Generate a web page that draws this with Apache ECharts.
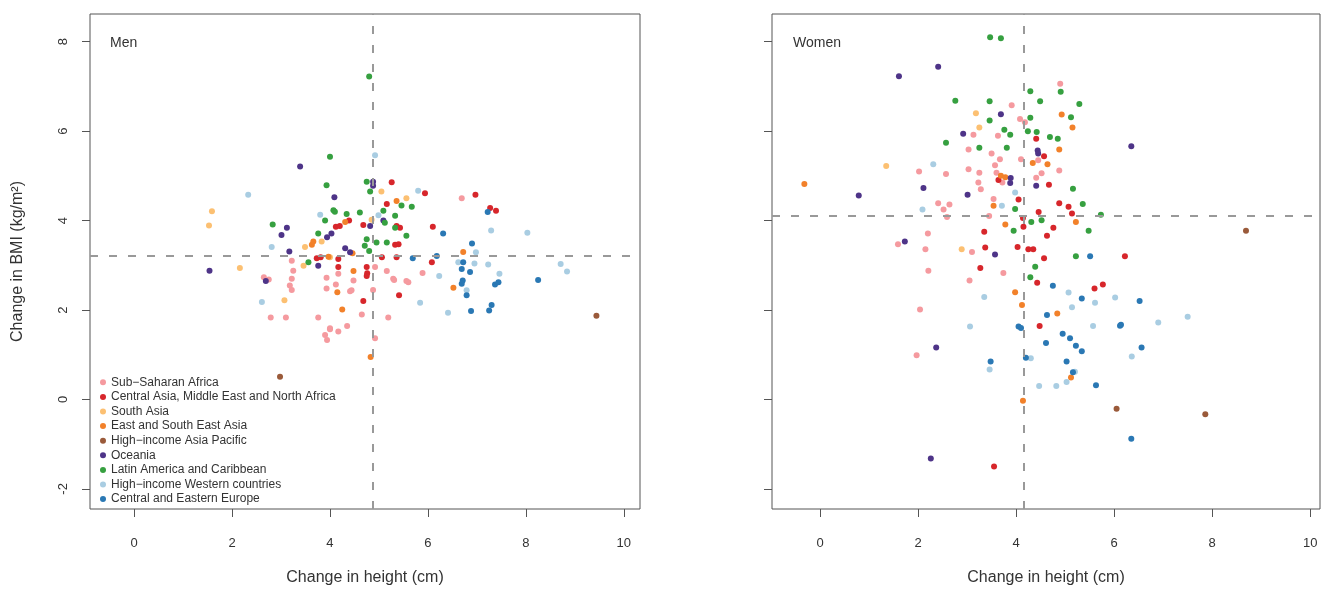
<!DOCTYPE html>
<html>
<head>
<meta charset="utf-8">
<script src="https://cdn.jsdelivr.net/npm/echarts@6/dist/echarts.min.js"></script>
<style>
    html, body { margin: 0; padding: 0; background: #fff; }
    #chart { width: 1321px; height: 591px; }
</style>
</head>
<body>
<div id="chart"></div>
<script>
    // regions + colours (same order as the legend)
    const regionNames = [
        'Sub−Saharan Africa',
        'Central Asia, Middle East and North Africa',
        'South Asia',
        'East and South East Asia',
        'High−income Asia Pacific',
        'Oceania',
        'Latin America and Caribbean',
        'High−income Western countries',
        'Central and Eastern Europe'
    ];
    const regionColors = ['#f59a9f', '#d7262b', '#fcc072', '#f2812a', '#9a5a3a', '#4e3488', '#36a040', '#a9cde2', '#2a78b4'];

    // [change in height (cm), change in BMI (kg/m2)]
    const menSSA = [[3.22, 3.1], [3.25, 2.88], [4.17, 2.81], [4.92, 2.96], [5.16, 2.87], [5.29, 2.7], [5.56, 2.65], [5.89, 2.83],
        [2.65, 2.73], [2.75, 2.68], [3.22, 2.7], [3.93, 2.72], [4.48, 2.66], [3.22, 2.45], [3.93, 2.48], [4.41, 2.42], [4.88, 2.45],
        [4.12, 2.57], [4.44, 2.44], [5.31, 2.67], [5.6, 2.62], [4.65, 1.9], [2.79, 1.83], [3.1, 1.83], [3.76, 1.83], [5.19, 1.83],
        [4.35, 1.64], [4.0, 1.57], [4.17, 1.52], [3.9, 1.44], [3.94, 1.33], [4.92, 1.37], [6.69, 4.5], [3.18, 2.55], [4.0, 1.59]];
    const menMENA = [[5.26, 4.86], [5.94, 4.61], [5.16, 4.37], [4.39, 4.0], [4.2, 3.88], [4.12, 3.86], [4.68, 3.9], [5.36, 3.88],
        [5.43, 3.84], [6.1, 3.86], [5.33, 3.46], [5.4, 3.47], [3.73, 3.16], [3.81, 3.18], [4.17, 3.14], [5.06, 3.18], [5.36, 3.18],
        [6.08, 3.07], [4.17, 2.96], [4.75, 2.96], [4.76, 2.82], [4.75, 2.76], [5.41, 2.33], [4.68, 2.2], [6.97, 4.58], [7.27, 4.28],
        [7.39, 4.22]];
    const menSA = [[5.05, 4.65], [5.56, 4.5], [4.85, 4.02], [3.83, 3.53], [3.49, 3.41], [4.0, 3.18], [3.46, 2.99], [3.07, 2.22],
        [1.59, 4.21], [1.53, 3.89], [2.16, 2.94]];
    const menESEA = [[5.36, 4.44], [4.31, 3.97], [3.63, 3.46], [3.97, 3.19], [4.46, 3.27], [4.48, 2.87], [4.15, 2.4], [4.25, 2.01],
        [4.83, 0.95], [6.72, 3.3], [6.52, 2.5], [3.66, 3.53]];
    const menHIAP = [[9.44, 1.87], [2.98, 0.51]];
    const menOce = [[3.39, 5.21], [4.88, 4.87], [4.09, 4.52], [5.09, 4.0], [3.12, 3.84], [3.01, 3.68], [4.03, 3.71], [3.94, 3.63],
        [4.31, 3.38], [3.17, 3.31], [4.41, 3.29], [3.76, 2.99], [2.69, 2.65], [4.82, 3.88], [1.54, 2.88], [4.88, 4.78]];
    const menLAC = [[4.0, 5.43], [4.75, 4.87], [3.93, 4.79], [4.82, 4.65], [5.46, 4.34], [5.67, 4.31], [4.07, 4.23], [4.61, 4.18],
        [5.09, 4.22], [4.34, 4.15], [5.33, 4.11], [2.83, 3.91], [5.12, 3.95], [5.33, 3.84], [5.56, 3.66], [3.76, 3.71], [4.75, 3.58],
        [4.95, 3.51], [5.16, 3.51], [4.71, 3.44], [4.8, 3.32], [3.56, 3.07], [3.9, 4.0], [4.1, 4.2], [4.8, 7.22]];
    const menHIW = [[4.92, 5.46], [5.8, 4.67], [3.8, 4.13], [4.99, 4.12], [2.81, 3.41], [2.33, 4.58], [2.61, 2.18], [5.84, 2.16],
        [7.29, 3.78], [8.03, 3.73], [6.98, 3.29], [6.62, 3.07], [6.95, 3.04], [7.23, 3.02], [7.46, 2.81], [8.71, 3.03], [8.84, 2.86],
        [6.79, 2.44], [6.41, 1.94], [6.23, 2.76]];
    const menCEE = [[6.31, 3.71], [5.69, 3.16], [6.18, 3.21], [7.22, 4.19], [6.9, 3.49], [6.72, 3.07], [6.69, 2.92], [6.86, 2.85],
        [6.71, 2.66], [6.69, 2.59], [7.37, 2.57], [7.44, 2.62], [8.25, 2.67], [6.79, 2.33], [6.88, 1.98], [7.25, 1.99], [7.3, 2.11]];

    const womenSSA = [[4.9, 7.06], [3.91, 6.58], [4.08, 6.27], [4.18, 6.2], [3.13, 5.92], [3.63, 5.9], [3.03, 5.59], [3.5, 5.5],
        [3.67, 5.37], [4.1, 5.37], [3.57, 5.24], [3.03, 5.15], [3.25, 5.07], [3.6, 5.07], [4.52, 5.06], [4.41, 4.96], [4.88, 5.12],
        [3.23, 4.85], [3.28, 4.7], [3.54, 4.48], [3.72, 4.85], [2.02, 5.1], [2.57, 5.04], [2.41, 4.39], [2.52, 4.25], [2.64, 4.36],
        [2.59, 4.08], [2.2, 3.71], [1.59, 3.47], [2.15, 3.36], [2.21, 2.88], [2.04, 2.01], [1.97, 0.99], [3.1, 3.3], [3.74, 2.83],
        [3.05, 2.66], [4.45, 5.35], [3.45, 4.1]];
    const womenMENA = [[4.57, 5.44], [3.64, 4.91], [4.67, 4.8], [4.05, 4.47], [4.88, 4.39], [5.07, 4.31], [5.14, 4.16], [4.14, 4.06],
        [4.46, 4.19], [4.76, 3.84], [3.35, 3.75], [4.15, 3.86], [4.63, 3.66], [3.37, 3.4], [4.03, 3.41], [4.25, 3.36], [4.35, 3.36],
        [4.57, 3.16], [3.27, 2.94], [4.43, 2.61], [5.6, 2.48], [5.77, 2.57], [4.48, 1.64], [3.55, -1.5], [6.22, 3.2], [4.41, 5.83]];
    const womenSA = [[1.35, 5.22], [3.18, 6.4], [3.25, 6.08], [2.89, 3.36]];
    const womenESEA = [[-0.32, 4.82], [4.93, 6.37], [5.15, 6.08], [4.88, 5.59], [4.34, 5.29], [4.64, 5.26], [3.69, 5.0], [3.78, 4.97],
        [3.54, 4.33], [5.22, 3.97], [3.78, 3.91], [3.98, 2.4], [4.12, 2.11], [4.84, 1.92], [5.12, 0.49], [4.14, -0.03]];
    const womenHIAP = [[8.69, 3.77], [6.05, -0.21], [7.86, -0.33]];
    const womenOce = [[2.41, 7.44], [1.61, 7.23], [0.79, 4.56], [2.11, 4.73], [1.73, 3.53], [2.37, 1.16], [2.26, -1.32], [3.69, 6.38],
        [2.92, 5.94], [4.44, 5.57], [4.45, 5.5], [3.89, 4.95], [3.88, 4.84], [4.41, 4.78], [3.01, 4.58], [3.57, 3.24], [6.35, 5.66]];
    const womenLAC = [[3.47, 8.1], [3.69, 8.08], [2.76, 6.68], [2.57, 5.74], [4.91, 6.88], [4.29, 6.89], [3.46, 6.67], [4.49, 6.67],
        [5.29, 6.61], [5.12, 6.31], [3.46, 6.24], [4.29, 6.3], [3.76, 6.03], [3.88, 5.92], [4.24, 6.0], [4.42, 5.98], [4.69, 5.87],
        [4.85, 5.83], [3.25, 5.63], [3.81, 5.63], [5.16, 4.71], [5.36, 4.37], [3.98, 4.26], [5.73, 4.13], [4.31, 3.97], [4.52, 4.01],
        [3.95, 3.77], [5.48, 3.77], [5.22, 3.2], [4.39, 2.97], [4.29, 2.73]];
    const womenHIW = [[2.31, 5.26], [2.09, 4.25], [3.98, 4.63], [3.71, 4.33], [5.07, 2.39], [3.35, 2.29], [6.02, 2.28], [5.61, 2.16],
        [5.14, 2.06], [3.06, 1.63], [5.57, 1.64], [3.46, 0.67], [4.3, 0.92], [5.2, 0.62], [5.03, 0.39], [4.47, 0.3], [4.82, 0.3],
        [6.9, 1.72], [7.5, 1.85], [6.36, 0.96]];
    const womenCEE = [[5.51, 3.2], [4.75, 2.54], [5.34, 2.26], [4.63, 1.89], [4.05, 1.63], [4.1, 1.6], [6.12, 1.65], [4.95, 1.47],
        [5.1, 1.37], [4.61, 1.26], [5.22, 1.2], [5.34, 1.08], [3.48, 0.85], [4.2, 0.93], [5.03, 0.85], [5.16, 0.61], [5.63, 0.32],
        [6.52, 2.2], [6.14, 1.67], [6.56, 1.16], [6.35, -0.88]];

    const menData = [menSSA, menMENA, menSA, menESEA, menHIAP, menOce, menLAC, menHIW, menCEE];
    const womenData = [womenSSA, womenMENA, womenSA, womenESEA, womenHIAP, womenOce, womenLAC, womenHIW, womenCEE];

    // dashed reference lines (global means)
    const menMean = {height: 4.88, bmi: 3.22};
    const womenMean = {height: 4.16, bmi: 4.1};

    const xTicks = [0, 2, 4, 6, 8, 10];
    const yTicks = [-2, 0, 2, 4, 6, 8];

    const font = 'Liberation Sans, Arial, sans-serif';

    let xAxis = (idx, range) => ({
        type: 'value',
        gridIndex: idx,
        min: range[0],
        max: range[1],
        name: 'Change in height (cm)',
        nameLocation: 'middle',
        nameGap: 61,
        nameTextStyle: {fontFamily: font, fontSize: 16, color: '#333'},
        axisLine: {show: false, onZero: false},
        axisTick: {show: true, length: 8, customValues: xTicks, lineStyle: {color: '#555'}},
        axisLabel: {customValues: xTicks, margin: 28, fontFamily: font, fontSize: 13, color: '#333'},
        splitLine: {show: false}
    });

    let yAxis = (idx, labels) => ({
        type: 'value',
        gridIndex: idx,
        min: -2.45,
        max: 8.62,
        name: labels ? 'Change in BMI (kg/m²)' : '',
        nameLocation: 'middle',
        nameGap: 64,
        nameTextStyle: {fontFamily: font, fontSize: 16, color: '#333'},
        axisLine: {show: false, onZero: false},
        axisTick: {show: true, length: 8, customValues: yTicks, lineStyle: {color: '#555'}},
        axisLabel: {show: labels, customValues: yTicks, rotate: 90, margin: 20, fontFamily: font, fontSize: 13, color: '#333'},
        splitLine: {show: false}
    });

    let refLine = (mean) => ({
        silent: true,
        symbol: 'none',
        label: {show: false},
        lineStyle: {type: [8, 11], color: '#999', width: 2},
        data: [{xAxis: mean.height}, {yAxis: mean.bmi}]
    });

    const series = [];
    regionNames.forEach((name, i) => {
        series.push({
            name, type: 'scatter', xAxisIndex: 0, yAxisIndex: 0,
            symbolSize: 6, itemStyle: {color: regionColors[i], opacity: 1},
            data: menData[i],
            markLine: i === 0 ? refLine(menMean) : undefined
        });
        series.push({
            name, type: 'scatter', xAxisIndex: 1, yAxisIndex: 1,
            symbolSize: 6, itemStyle: {color: regionColors[i], opacity: 1},
            data: womenData[i],
            markLine: i === 0 ? refLine(womenMean) : undefined
        });
    });

    const option = {
        animation: false,
        color: regionColors,
        title: [
            {text: 'Men', left: 105, top: 31, textStyle: {fontFamily: font, fontSize: 14, fontWeight: 'normal', color: '#333'}},
            {text: 'Women', left: 788, top: 31, textStyle: {fontFamily: font, fontSize: 14, fontWeight: 'normal', color: '#333'}}
        ],
        legend: {
            data: regionNames,
            orient: 'vertical',
            left: 95,
            top: 371,
            icon: 'circle',
            itemWidth: 6,
            itemHeight: 6,
            itemGap: 2,
            textStyle: {fontFamily: font, fontSize: 12, lineHeight: 12.6, color: '#333'}
        },
        grid: [
            {left: 90, top: 14, width: 550, height: 500, show: true, borderColor: '#555', borderWidth: 1},
            {left: 772, top: 14, width: 548, height: 500, show: true, borderColor: '#555', borderWidth: 1}
        ],
        xAxis: [xAxis(0, [-0.9, 10.33]), xAxis(1, [-0.98, 10.2])],
        yAxis: [yAxis(0, true), yAxis(1, false)],
        series
    };

    const chart = echarts.init(document.getElementById('chart'));
    chart.setOption(option);
</script>
</body>
</html>
